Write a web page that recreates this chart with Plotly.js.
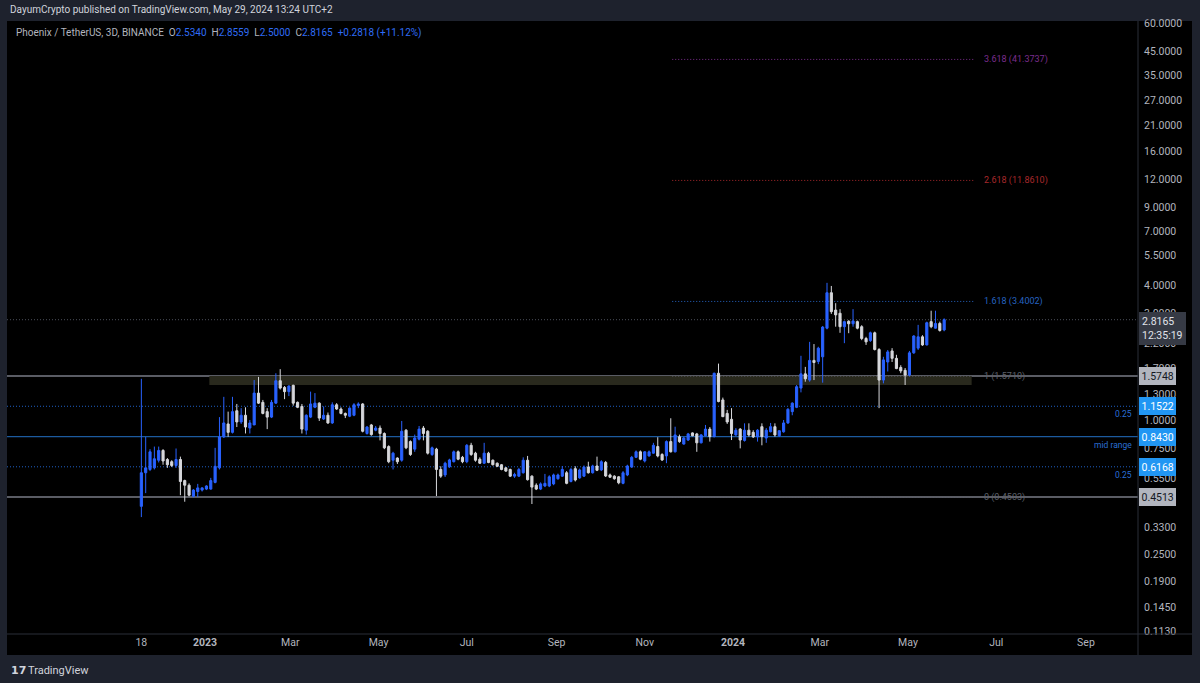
<!DOCTYPE html>
<html><head><meta charset="utf-8">
<script src="https://cdn.plot.ly/plotly-3.0.1.min.js"></script>
<style>html,body{margin:0;padding:0;background:#1e222d;overflow:hidden}#chart{width:1200px;height:683px}</style>
</head><body><div id="chart"></div>
<script>
// ---- data (3D candles, PHB/USDT) ----
const firstBarDate = '2022-11-18';
const barDays = 3;
const opens = [0.41,0.58,0.60,0.61,0.66,0.73,0.665,0.65,0.625,0.665,0.535,0.51,0.455,0.478,0.485,0.49,0.49,0.525,0.61,0.84,
0.96,0.88,1.10,0.98,1.05,0.92,0.95,1.32,1.2,1.09,1.03,1.19,1.50,1.40,1.34,1.43,1.2,1.15,0.90,1.03,
1.14,1.19,1.01,1.05,0.97,1.17,1.12,1.07,1.04,1.05,1.16,1.18,0.87,0.95,0.90,0.92,0.87,0.76,0.66,0.675,
0.66,0.90,0.80,0.74,0.82,0.92,0.89,0.70,0.74,0.60,0.567,0.617,0.65,0.72,0.68,0.65,0.77,0.71,0.667,0.64,
0.71,0.66,0.64,0.63,0.61,0.60,0.56,0.56,0.58,0.66,0.56,0.51,0.49,0.506,0.506,0.517,0.545,0.56,0.58,0.53,
0.605,0.55,0.56,0.615,0.58,0.622,0.597,0.645,0.567,0.56,0.556,0.52,0.567,0.615,0.68,0.72,0.655,0.69,0.71,0.76,
0.70,0.69,0.80,0.72,0.84,0.78,0.813,0.875,0.866,0.79,0.85,0.91,0.842,1.62,1.23,1.07,1.007,0.857,0.91,0.81,
0.90,0.88,0.84,0.933,0.83,0.886,0.933,0.85,0.885,0.97,1.09,1.14,1.39,1.61,1.51,1.85,1.83,1.92,2.58,3.72,
3.11,3.01,2.62,2.77,2.70,2.76,2.62,2.32,2.27,2.46,2.07,1.51,1.82,2.04,1.89,1.72,1.67,1.59,2.0,2.10,
2.36,2.17,2.76,2.58,2.71,2.534];
const highs = [1.53,0.84,0.74,0.76,0.76,0.74,0.675,0.66,0.745,0.685,0.54,0.52,0.49,0.517,0.50,0.51,0.55,0.75,1.03,1.27,
1.09,1.27,1.18,1.13,1.14,1.0,1.51,1.56,1.23,1.13,1.23,1.62,1.69,1.42,1.43,1.44,1.21,1.18,1.06,1.34,
1.32,1.20,1.15,1.08,1.2,1.19,1.14,1.08,1.14,1.19,1.2,1.19,0.94,0.96,0.94,0.945,0.88,0.77,0.72,0.68,
0.99,0.91,0.81,0.86,0.94,0.94,0.90,0.76,0.75,0.62,0.65,0.67,0.73,0.73,0.69,0.78,0.79,0.72,0.68,0.79,
0.72,0.665,0.645,0.635,0.615,0.605,0.58,0.61,0.68,0.69,0.565,0.52,0.525,0.573,0.565,0.575,0.575,0.622,0.59,0.61,
0.62,0.605,0.625,0.65,0.63,0.685,0.66,0.655,0.575,0.565,0.56,0.59,0.63,0.69,0.73,0.73,0.725,0.73,0.79,0.837,
0.71,0.81,1.018,0.933,0.86,0.84,0.875,0.88,0.875,0.865,0.95,0.93,1.63,1.79,1.26,1.11,1.13,0.92,0.92,0.966,
0.966,0.90,0.91,0.966,0.92,0.97,0.966,0.90,1.0,1.13,1.2,1.435,1.94,1.73,2.24,2.19,2.13,2.64,4.12,3.99,
3.34,3.14,2.79,2.80,3.14,2.79,2.66,2.36,2.49,2.49,2.10,1.92,2.06,2.10,1.96,1.76,1.71,2.04,2.40,2.67,
2.40,2.76,3.09,3.09,2.76,2.8559];
const lows = [0.367,0.47,0.59,0.60,0.645,0.63,0.61,0.615,0.61,0.46,0.43,0.455,0.45,0.452,0.478,0.485,0.487,0.52,0.60,0.83,
0.84,0.87,0.93,0.96,0.87,0.87,0.95,1.18,1.06,0.91,1.02,1.18,1.37,1.24,1.28,1.16,1.13,0.87,0.86,1.02,
1.13,0.99,1.0,0.96,0.96,1.11,1.06,1.02,1.03,1.04,1.13,0.88,0.86,0.85,0.89,0.81,0.74,0.64,0.60,0.635,
0.65,0.74,0.69,0.72,0.81,0.81,0.70,0.69,0.456,0.55,0.555,0.61,0.645,0.66,0.64,0.64,0.69,0.65,0.635,0.635,
0.64,0.625,0.615,0.595,0.585,0.555,0.55,0.555,0.575,0.535,0.42,0.485,0.485,0.50,0.50,0.51,0.54,0.555,0.515,0.525,
0.53,0.545,0.555,0.575,0.575,0.59,0.59,0.555,0.55,0.54,0.515,0.515,0.56,0.61,0.675,0.66,0.645,0.685,0.705,0.68,
0.655,0.64,0.715,0.715,0.79,0.775,0.805,0.845,0.72,0.785,0.845,0.80,0.835,1.20,1.03,0.96,0.813,0.85,0.746,0.80,
0.842,0.83,0.80,0.77,0.79,0.88,0.842,0.84,0.877,0.96,1.05,1.13,1.33,1.485,1.485,1.51,1.78,1.47,2.55,2.99,
2.62,2.46,2.21,2.45,2.62,2.55,2.28,2.17,2.24,2.05,1.13,1.46,1.65,1.82,1.69,1.62,1.435,1.57,1.98,2.06,
2.15,2.16,2.58,2.57,2.49,2.50];
const closes = [0.58,0.61,0.72,0.67,0.73,0.655,0.63,0.625,0.665,0.53,0.51,0.46,0.485,0.496,0.496,0.506,0.535,0.62,0.84,0.97,
0.88,1.09,0.98,1.05,0.93,0.97,1.32,1.19,1.07,1.03,1.2,1.50,1.39,1.34,1.42,1.19,1.14,0.91,1.05,1.18,
1.19,1.02,1.05,0.97,1.17,1.12,1.07,1.05,1.13,1.17,1.18,0.89,0.93,0.86,0.92,0.87,0.75,0.65,0.71,0.65,
0.89,0.75,0.70,0.83,0.91,0.87,0.71,0.75,0.60,0.56,0.64,0.662,0.72,0.667,0.65,0.77,0.70,0.66,0.64,0.71,
0.645,0.63,0.62,0.60,0.59,0.56,0.57,0.60,0.66,0.54,0.50,0.49,0.517,0.52,0.556,0.567,0.567,0.60,0.52,0.60,
0.538,0.597,0.615,0.58,0.622,0.595,0.65,0.561,0.554,0.545,0.523,0.58,0.622,0.68,0.72,0.667,0.72,0.72,0.77,0.69,
0.662,0.80,0.72,0.857,0.80,0.83,0.866,0.85,0.79,0.857,0.91,0.842,1.62,1.21,1.035,0.98,0.87,0.90,0.813,0.90,
0.857,0.84,0.90,0.842,0.90,0.933,0.857,0.895,0.97,1.117,1.19,1.41,1.61,1.53,1.85,1.81,2.10,2.61,3.72,3.06,
2.96,2.62,2.76,2.70,2.78,2.58,2.32,2.24,2.46,2.07,1.51,1.86,2.02,1.89,1.70,1.66,1.59,2.0,2.38,2.36,
2.17,2.73,2.62,2.71,2.52,2.8165];

const xTickDates  = ['2022-11-18','2023-01-01','2023-03-01','2023-05-01','2023-07-01','2023-09-01','2023-11-01','2024-01-01','2024-03-01','2024-05-01','2024-07-01','2024-09-01'];
const xTickLabels = ['18','<b>2023</b>','Mar','May','Jul','Sep','Nov','<b>2024</b>','Mar','May','Jul','Sep'];
const yTickValues = [0.113,0.145,0.19,0.25,0.33,0.43,0.55,0.75,1.0,1.3,1.7,2.2,3.0,4.0,5.5,7.0,9.0,12,16,21,27,35,45,60];

const levelPrices = [1.5748, 1.1522, 0.8430, 0.6168, 0.4513];
const levelNotes  = ['', '0.25', 'mid range', '0.25', ''];
const currentPrice = 2.8165;
const countdown = '12:35:19';
const fibRatios = ['3.618','2.618','1.618','1','0'];
const fibPrices = [41.3737, 11.8610, 3.4002, 1.5710, 0.4503];
const fibDates = ['2023-11-20','2024-06-16'];
const fibLabelDate = '2024-06-21';
const zonePrices = [1.435, 1.5748];
const zoneDates = ['2023-01-04','2024-06-14'];
const header = {symbol:'Phoenix / TetherUS, 3D, BINANCE', o:'2.5340', h:'2.8559', l:'2.5000', c:'2.8165', chg:'+0.2818 (+11.12%)'};
const publishedText = 'DayumCrypto published on TradingView.com, May 29, 2024 13:24 UTC+2';

// ---- build ----
const t0 = Date.UTC(2022,10,18);
const dates = opens.map((_, i) => new Date(t0 + i*barDays*86400000).toISOString().slice(0,10));

const UP = '#2962ff', DOWN = '#d6d7db';
const trace = {
  type:'candlestick', x:dates, open:opens, high:highs, low:lows, close:closes,
  increasing:{line:{color:UP,width:1}, fillcolor:UP},
  decreasing:{line:{color:DOWN,width:1}, fillcolor:DOWN},
  whiskerwidth:0, hoverinfo:'skip', showlegend:false
};

const L=7, R=1138, T=21, B=634;
const px = p => (p-L)/(R-L);
const py = p => (B-p)/(B-T);

const DOTS = '1px,2px';
const levelStyle = [
  {color:'#787b86', width:1.5, dash:'solid', box:'#b2b5be', txt:'#131722'},
  {color:'#1f5fc4', width:1, dash:DOTS, box:'#2196f3', txt:'#ffffff'},
  {color:'#1c5a9e', width:1.3, dash:'solid', box:'#2196f3', txt:'#ffffff'},
  {color:'#1f5fc4', width:1, dash:DOTS, box:'#2196f3', txt:'#ffffff'},
  {color:'#787b86', width:1.5, dash:'solid', box:'#b2b5be', txt:'#131722'}
];
const fibColors = ['#7b2d8e','#a8282b','#2563c0','#5d606b','#5d606b'];

const shapes = [
  {type:'rect', xref:'paper', yref:'paper', x0:0, x1:px(1192), y0:py(655), y1:1, fillcolor:'#000000', line:{width:0}, layer:'below'},
  {type:'rect', xref:'x', yref:'y', x0:zoneDates[0], x1:zoneDates[1], y0:zonePrices[0], y1:zonePrices[1], fillcolor:'#29291d', line:{width:0}, layer:'below'},
  {type:'line', xref:'paper', yref:'y', x0:0, x1:1, y0:currentPrice, y1:currentPrice, line:{color:'#4a4e59', width:1, dash:DOTS}, layer:'below'}
];
fibPrices.forEach((p,k)=>{
  shapes.push({type:'line', xref:'x', yref:'y', x0:fibDates[0], x1:fibDates[1], y0:p, y1:p, line:{color:fibColors[k], width:1, dash:DOTS}, layer:'below'});
});
levelPrices.forEach((p,k)=>{
  const s = levelStyle[k];
  shapes.push({type:'line', xref:'paper', yref:'y', x0:0, x1:1, y0:p, y1:p, line:{color:s.color, width:s.width, dash:s.dash}, layer:'below'});
});
shapes.push({type:'line', xref:'paper', yref:'paper', x0:1, x1:1, y0:py(655), y1:1, line:{color:'#2a2e39', width:1}});
shapes.push({type:'line', xref:'paper', yref:'paper', x0:0, x1:px(1192), y0:0, y1:0, line:{color:'#2a2e39', width:1}});

const FONT = 'Roboto, "Noto Sans", sans-serif';
const annotations = [];
annotations.push({xref:'paper', yref:'paper', x:px(8), y:py(10), xanchor:'left', yanchor:'middle', showarrow:false,
  text:publishedText, font:{family:FONT, size:10, color:'#d1d4dc'}});
const B1 = s => '<span style="color:#2f6cf5">'+s+'</span>';
const sp = '\u00a0\u00a0';
annotations.push({xref:'paper', yref:'paper', x:px(14), y:py(33), xanchor:'left', yanchor:'middle', showarrow:false,
  text: header.symbol + sp + 'O' + B1(header.o) + sp + 'H' + B1(header.h) + sp + 'L' + B1(header.l) + sp + 'C' + B1(header.c) + sp + B1(header.chg),
  font:{family:FONT, size:10, color:'#b2b5be'}});

levelPrices.forEach((p,k)=>{
  const s = levelStyle[k];
  annotations.push({xref:'paper', yref:'y', x:1, y:Math.log10(p), xanchor:'left', yanchor:'middle', showarrow:false,
    text:p.toFixed(4), bgcolor:s.box, bordercolor:s.box, borderpad:1.5, xshift:1,
    font:{family:FONT, size:10.5, color:s.txt}});
  if(levelNotes[k]){
    annotations.push({xref:'paper', yref:'y', x:px(1134), y:Math.log10(p), xanchor:'right', yanchor:'top', yshift:-1, showarrow:false,
      text:levelNotes[k], font:{family:FONT, size:8.5, color:'#2a6fd6'}});
  }
});
annotations.push({xref:'paper', yref:'y', x:1, y:Math.log10(currentPrice), xanchor:'left', yanchor:'top', yshift:8, xshift:1, showarrow:false,
  text:currentPrice.toFixed(4)+'<br>'+countdown, align:'left', bgcolor:'#363a45', bordercolor:'#363a45', borderpad:2,
  font:{family:FONT, size:10.5, color:'#e0e3eb'}});
fibPrices.forEach((p,k)=>{
  annotations.push({xref:'x', yref:'y', x:fibLabelDate, y:Math.log10(p), xanchor:'left', yanchor:'middle', showarrow:false,
    text:fibRatios[k]+' ('+p.toFixed(4)+')', font:{family:FONT, size:9, color:fibColors[k]}});
});
annotations.push({xref:'paper', yref:'paper', x:px(9), y:py(670), xanchor:'left', yanchor:'middle', showarrow:false,
  text:'<b>17</b>', font:{family:'"DejaVu Sans", sans-serif', size:11, color:'#d1d4dc'}});
annotations.push({xref:'paper', yref:'paper', x:px(26), y:py(670), xanchor:'left', yanchor:'middle', showarrow:false,
  text:'TradingView', font:{family:FONT, size:11, color:'#d1d4dc'}});

const layout = {
  width:1200, height:683,
  margin:{l:L, r:1200-R, t:T, b:683-B, pad:0},
  paper_bgcolor:'#1e222d', plot_bgcolor:'#000000',
  showlegend:false, dragmode:false,
  xaxis:{type:'date', range:['2022-08-17 03:00','2024-10-07'], tickvals:xTickDates, ticktext:xTickLabels,
    showgrid:false, zeroline:false, showline:false, ticks:'', rangeslider:{visible:false},
    tickfont:{family:FONT, size:10.5, color:'#b2b5be'}, fixedrange:true},
  yaxis:{type:'log', side:'right', range:[-0.9596, 1.789], tickvals:yTickValues, ticktext:yTickValues.map(v=>v.toFixed(4)),
    showgrid:false, zeroline:false, showline:false, ticks:'', ticklabelstandoff:5,
    tickfont:{family:FONT, size:10.5, color:'#b2b5be'}, fixedrange:true},
  shapes:shapes, annotations:annotations
};
Plotly.newPlot('chart', [trace], layout, {displayModeBar:false, staticPlot:true});
</script></body></html>
